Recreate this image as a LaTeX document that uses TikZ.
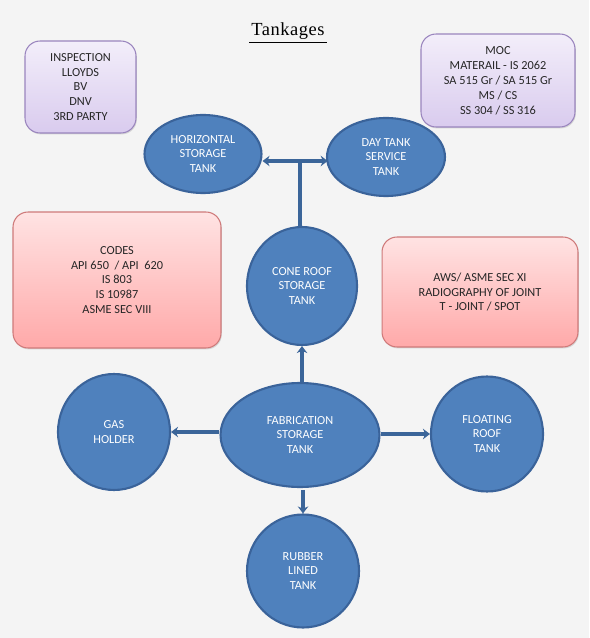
\documentclass[tikz,border=0pt]{standalone}
\usepackage{fontspec}
\setmainfont{Carlito}
\newfontfamily\titlefont[LetterSpace=3]{Liberation Serif}
\usetikzlibrary{shapes.geometric, arrows.meta, shadows}

\begin{document}
\begin{tikzpicture}[x=0.02cm, y=-0.02cm,
    tank/.style={ellipse, draw=tankBorder, line width=1.2pt, fill=tankFill, text=white,
                 inner sep=0pt, align=center, font=\fontsize{7}{8.5}\selectfont},
    infobox/.style={rectangle, rounded corners=0.3cm, line width=0.6pt, align=center,
                    font=\fontsize{7}{8.5}\selectfont, text=black!85,
                    drop shadow={shadow xshift=0.5pt, shadow yshift=-0.8pt, opacity=0.25}},
    lilacbox/.style={infobox, draw=lilacBorder, top color=lilacTop, bottom color=lilacBottom},
    pinkbox/.style={infobox, draw=pinkBorder, top color=pinkTop, bottom color=pinkBottom},
    link/.style={draw=linkColour, line width=2.3pt, -{Stealth[length=4pt, width=6pt]}}]
    % Define colours
    \definecolor{backColour}{HTML}{F4F4F4}
    \definecolor{tankFill}{HTML}{4F81BD}
    \definecolor{tankBorder}{HTML}{3A639A}
    \definecolor{linkColour}{HTML}{3B6599}
    \definecolor{lilacTop}{HTML}{F3EEFA}
    \definecolor{lilacBottom}{HTML}{D9CBEE}
    \definecolor{lilacBorder}{HTML}{9A85BE}
    \definecolor{pinkTop}{HTML}{FFE3E3}
    \definecolor{pinkBottom}{HTML}{FFA9A9}
    \definecolor{pinkBorder}{HTML}{CF7A7A}

  % Background and page size
  \fill[backColour] (0,0) rectangle (589,638);
  \useasboundingbox (0,0) rectangle (589,638);

  % Title
  \node[font=\titlefont\fontsize{10.5}{12}\selectfont, inner sep=1pt] (title) at (288,31) {Tankages};
  \draw[line width=0.6pt] ([yshift=-0.5pt]title.south west) -- ([yshift=-0.5pt]title.south east);

  % Information boxes
  \node[lilacbox, minimum width=2.22cm, minimum height=1.84cm] (inspection) at (80.5,87)
      {INSPECTION\\LLOYDS\\BV\\DNV\\3RD PARTY};
  \node[lilacbox, minimum width=3.08cm, minimum height=1.86cm] (moc) at (498,80.5)
      {MOC\\MATERAIL - IS 2062\\SA 515 Gr / SA 515 Gr\\MS / CS\\SS 304 / SS 316};
  \node[pinkbox, minimum width=4.16cm, minimum height=2.72cm] (codes) at (117,280)
      {CODES\\API 650~ / API~ 620\\IS 803\\IS 10987\\ASME SEC VIII};
  \node[pinkbox, minimum width=3.92cm, minimum height=2.2cm] (aws) at (480,292)
      {AWS/ ASME SEC XI\\RADIOGRAPHY OF JOINT\\T - JOINT / SPOT};

  % Tanks
  \node[tank, minimum width=2.34cm, minimum height=1.56cm] (horizontal) at (203,154)
      {HORIZONTAL\\STORAGE\\TANK};
  \node[tank, minimum width=2.36cm, minimum height=1.56cm] (daytank) at (386,157)
      {DAY TANK\\SERVICE\\TANK};
  \node[tank, minimum width=2.2cm, minimum height=2.36cm] (coneroof) at (302,286)
      {CONE ROOF\\STORAGE\\TANK};
  \node[tank, minimum width=3.18cm, minimum height=2.08cm] (fabrication) at (300,435)
      {FABRICATION\\STORAGE\\TANK};
  \node[tank, minimum width=2.24cm, minimum height=2.32cm] (gasholder) at (114,432)
      {GAS\\HOLDER};
  \node[tank, minimum width=2.24cm, minimum height=2.3cm] (floatingroof) at (487,434)
      {FLOATING\\ROOF\\TANK};
  \node[tank, minimum width=2.24cm, minimum height=2.26cm] (rubberlined) at (303,571)
      {RUBBER\\LINED\\TANK};

  % T-joint between the cone roof tank and the two upper tanks
  \coordinate (tjoin) at (300,161);
  \draw[link, -] (coneroof.north -| tjoin) -- (tjoin);
  \draw[link] (tjoin) -- (tjoin -| horizontal.east);
  \draw[link] (tjoin) -- ([xshift=1pt]tjoin -| daytank.west);

  % Links from the fabrication tank
  \draw[link] (fabrication.north -| coneroof.south) -- (coneroof.south);
  \draw[link] (fabrication.west |- gasholder.east) -- (gasholder.east);
  \draw[link] (fabrication.east |- floatingroof.west) -- (floatingroof.west);
  \draw[link] ([yshift=-1pt]fabrication.south -| rubberlined.north) -- (rubberlined.north);

\end{tikzpicture}
\end{document}
